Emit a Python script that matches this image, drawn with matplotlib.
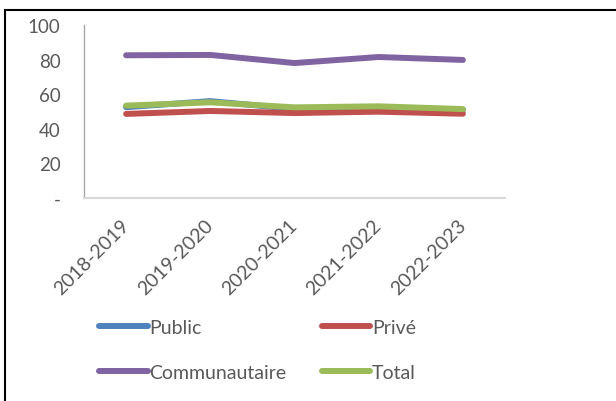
import matplotlib.pyplot as plt
from matplotlib.patches import Rectangle

plt.rcParams['font.family'] = ['Lato', 'DejaVu Sans']

years = ['2018-2019', '2019-2020', '2020-2021', '2021-2022', '2022-2023']
public = [52.5, 56.0, 51.5, 52.5, 51.0]
prive = [48.6, 50.3, 49.1, 49.9, 48.7]
communautaire = [82.5, 82.7, 78.0, 81.5, 79.8]
total = [53.4, 55.3, 52.4, 53.0, 51.4]

colors = {'Public': '#4F81BD', 'Privé': '#C0504D',
          'Communautaire': '#8064A2', 'Total': '#9BBB59'}

fig = plt.figure(figsize=(6.16, 4.02), dpi=100)
ax = fig.add_axes([84 / 616, 1 - 199 / 402, (505 - 84) / 616, (199 - 26) / 402])

x = range(len(years))
lw = 4.3
h_pub, = ax.plot(x, public, color=colors['Public'], lw=lw, solid_capstyle='round', label='Public')
h_pri, = ax.plot(x, prive, color=colors['Privé'], lw=lw, solid_capstyle='round', label='Privé')
h_com, = ax.plot(x, communautaire, color=colors['Communautaire'], lw=lw, solid_capstyle='round', label='Communautaire')
h_tot, = ax.plot(x, total, color=colors['Total'], lw=lw, solid_capstyle='round', label='Total')

ax.set_xlim(-0.5, len(years) - 0.5)
ax.set_ylim(0, 100)
ax.set_yticks([0, 20, 40, 60, 80, 100])
ax.set_yticklabels(['-', '20', '40', '60', '80', '100'])
ax.set_xticks(list(x))
ax.set_xticklabels(years, rotation=45, ha='right', va='center', rotation_mode='anchor')

for s in ['top', 'right']:
    ax.spines[s].set_visible(False)
ax.spines['left'].set_color('#A6A6A6')
ax.spines['left'].set_linewidth(1.0)
ax.spines['bottom'].set_color('#D9D9D9')
ax.spines['bottom'].set_linewidth(1.5)
ax.tick_params(axis='y', length=0, pad=17, labelsize=13.5, labelcolor='#595959')
ax.tick_params(axis='x', length=0, pad=17, labelsize=14, labelcolor='#595959')

# legend fills column by column
handles = [h_pub, h_com, h_pri, h_tot]
leg = fig.legend(handles=handles, labels=[h.get_label() for h in handles],
                 loc='upper left', bbox_to_anchor=(99 / 616, 1 - 320 / 402), ncol=2,
                 frameon=False, fontsize=14, handlelength=2.5, handletextpad=0.1,
                 columnspacing=1.8, labelspacing=1.45, borderpad=0, borderaxespad=0)
for t in leg.get_texts():
    t.set_color('#595959')

# outer frame of the chart
fig.patches.append(Rectangle((5 / 616, -0.1), 1.2, 1 - 11 / 402 + 0.1,
                             transform=fig.transFigure, fill=False,
                             edgecolor='black', lw=1.5, clip_on=False))

fig.savefig('out.png', dpi=100)
